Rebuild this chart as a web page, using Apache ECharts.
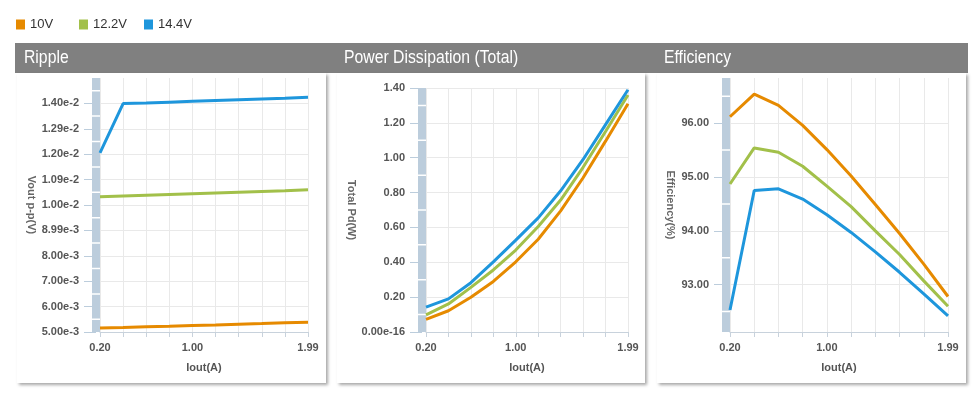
<!DOCTYPE html>
<html>
<head>
<meta charset="utf-8">
<script src="https://cdn.jsdelivr.net/npm/echarts@6/dist/echarts.min.js"></script>
<style>
html,body{margin:0;padding:0;background:#fff;}
#c{width:978px;height:399px;}
</style>
</head>
<body>
<div id="c"></div>
<script>
// ---------- data ----------
const seriesNames = ['10V', '12.2V', '14.4V'];
const iout = ['0.20','0.40','0.60','0.80','1.00','1.20','1.40','1.60','1.80','1.99'];
const xLabelIdx = [0, 4, 9];

const ripple10  = [0.00516,0.00518,0.00521,0.00523,0.00526,0.00528,0.00531,0.00533,0.00536,0.00538];
const ripple122 = [0.01032,0.01035,0.01038,0.01041,0.01044,0.01047,0.01050,0.01053,0.01056,0.01060];
const ripple144 = [0.01205,0.013995,0.01402,0.01405,0.01408,0.01411,0.01414,0.01417,0.01420,0.01424];
const rippleTicks = ['5.00e-3','6.00e-3','7.00e-3','8.00e-3','8.99e-3','1.00e-2','1.09e-2','1.20e-2','1.29e-2','1.40e-2'];

const pd10  = [0.073,0.122,0.199,0.290,0.403,0.532,0.695,0.885,1.095,1.310];
const pd122 = [0.098,0.161,0.256,0.356,0.470,0.605,0.757,0.945,1.150,1.360];
const pd144 = [0.143,0.190,0.283,0.402,0.527,0.655,0.810,0.990,1.190,1.390];
const pdTicks = ['0.00e-16','0.20','0.40','0.60','0.80','1.00','1.20','1.40'];

const eff10  = [96.12,96.54,96.33,95.96,95.51,95.02,94.49,93.95,93.38,92.78];
const eff122 = [94.87,95.54,95.46,95.20,94.83,94.45,94.00,93.56,93.07,92.60];
const eff144 = [92.53,94.75,94.78,94.59,94.30,93.97,93.61,93.23,92.83,92.42];

// ---------- styling ----------
const colors = ['#e68a00', '#a2c04a', '#1e96dc'];
const FONT = 'Liberation Sans, Arial, sans-serif';
const bandColor = '#bccddc';
const axisGray = '#c8d2dc';
const gridGray = '#e9e9e9';
const legendLeft = [11, 74, 139];

const panels = [
  {title:'Ripple', px:17, pw:309, grid:{left:100, top:78, width:208, height:254},
   yName:'Vout p-p(V)', nameGap:59, min:0.005, max:0.015, interval:0.001, first:0.005,
   fmt:(v)=>rippleTicks[Math.round((v-0.005)/0.001)] || '', showMax:false, data:[ripple10,ripple122,ripple144]},
  {title:'Power Dissipation (Total)', px:337, pw:308, grid:{left:426, top:88, width:202, height:244},
   yName:'Total Pd(W)', nameGap:65, min:0, max:1.4, interval:0.2, first:0,
   fmt:(v)=>pdTicks[Math.round(v/0.2)] || '', showMax:true, data:[pd10,pd122,pd144]},
  {title:'Efficiency', px:657, pw:309, grid:{left:730, top:78, width:218, height:254},
   yName:'Efficiency(%)', nameGap:50, min:92.12, max:96.84, interval:null, tickStep:1, first:93,
   fmt:(v)=>v.toFixed(2), showMax:false, data:[eff10,eff122,eff144]}
];

function bandDash(p){
  const H = p.grid.height;
  const step = p.interval || p.tickStep;
  const s = H*step/(p.max-p.min);
  const g = 1.5;
  let p0 = ((p.first-p.min)/(p.max-p.min))*H - s/2;
  p0 = ((p0 % s) + s) % s;
  let d = ((s - g/2 - p0) % s + s) % s;
  return {type:[s-g, g], dashOffset:d};
}

const grids = [], xAxes = [], yAxes = [], series = [], graphics = [];

graphics.push({type:'rect', z:-20, shape:{x:15, y:43, width:953, height:30}, style:{fill:'#808080'}});

panels.forEach((p, i) => {
  graphics.push({type:'rect', z:-10, shape:{x:p.px, y:73, width:p.pw, height:310},
    style:{fill:'#fff', shadowBlur:3, shadowOffsetX:2, shadowOffsetY:2, shadowColor:'rgba(0,0,0,0.35)'}});
  graphics.push({type:'text', z:10, x:p.px+7, y:58, scaleX:0.9, style:{text:p.title, x:0, y:0, fill:'#fff',
    font:'17.5px ' + FONT, textVerticalAlign:'middle'}});

  grids.push(Object.assign({containLabel:false}, p.grid));
  xAxes.push({
    type:'category', gridIndex:i, data:iout, boundaryGap:false,
    name:'Iout(A)', nameLocation:'middle', nameGap:30,
    nameTextStyle:{fontFamily:FONT, fontSize:11, fontWeight:'bold', color:'#555'},
    axisLine:{show:true, lineStyle:{color:axisGray, width:1}},
    axisTick:{show:true, interval:0, length:5, lineStyle:{color:axisGray}},
    axisLabel:{interval:(idx)=>xLabelIdx.indexOf(idx)>=0, margin:10, fontFamily:FONT, fontSize:11,
      fontWeight:'bold', color:'#555'},
    splitLine:{show:true, interval:0, lineStyle:{color:gridGray, width:1}}
  });
  const dash = bandDash(p);
  const y = {
    type:'value', gridIndex:i, min:p.min, max:p.max, offset:4,
    name:p.yName, nameLocation:'middle', nameRotate:-90, nameGap:p.nameGap,
    nameTextStyle:{fontFamily:FONT, fontSize:11, fontWeight:'bold', color:'#666'},
    axisLine:{show:true, onZero:false, lineStyle:{color:bandColor, width:8, cap:'butt',
      type:dash.type, dashOffset:dash.dashOffset}},
    axisTick:{show:true, length:12, lineStyle:{color:bandColor, width:1}},
    axisLabel:{margin:17, formatter:p.fmt, fontFamily:FONT, fontSize:11, fontWeight:'bold', color:'#555',
      showMinLabel: i===2 ? false : true, showMaxLabel:p.showMax},
    splitLine:{show:true, showMaxLine:p.showMax, lineStyle:{color:gridGray, width:1}}
  };
  if (p.interval) y.interval = p.interval;
  yAxes.push(y);
  p.data.forEach((d, k) => {
    series.push({
      name:seriesNames[k], type:'line', xAxisIndex:i, yAxisIndex:i, data:d,
      showSymbol:false, symbol:'none', smooth:false, z:3,
      lineStyle:{width:3, color:colors[k]}, itemStyle:{color:colors[k]},
      emphasis:{disabled:true}
    });
  });
});

const legends = seriesNames.map((n, k) => ({
  left:legendLeft[k], top:13, icon:'rect', itemWidth:9, itemHeight:10,
  data:[n], textStyle:{fontFamily:FONT, fontSize:13, color:'#333'}
}));

const chart = echarts.init(document.getElementById('c'), null, {renderer:'canvas'});
chart.setOption({
  animation:false,
  color:colors,
  legend:legends,
  graphic:graphics,
  grid:grids,
  xAxis:xAxes,
  yAxis:yAxes,
  series:series
});
</script>
</body>
</html>
